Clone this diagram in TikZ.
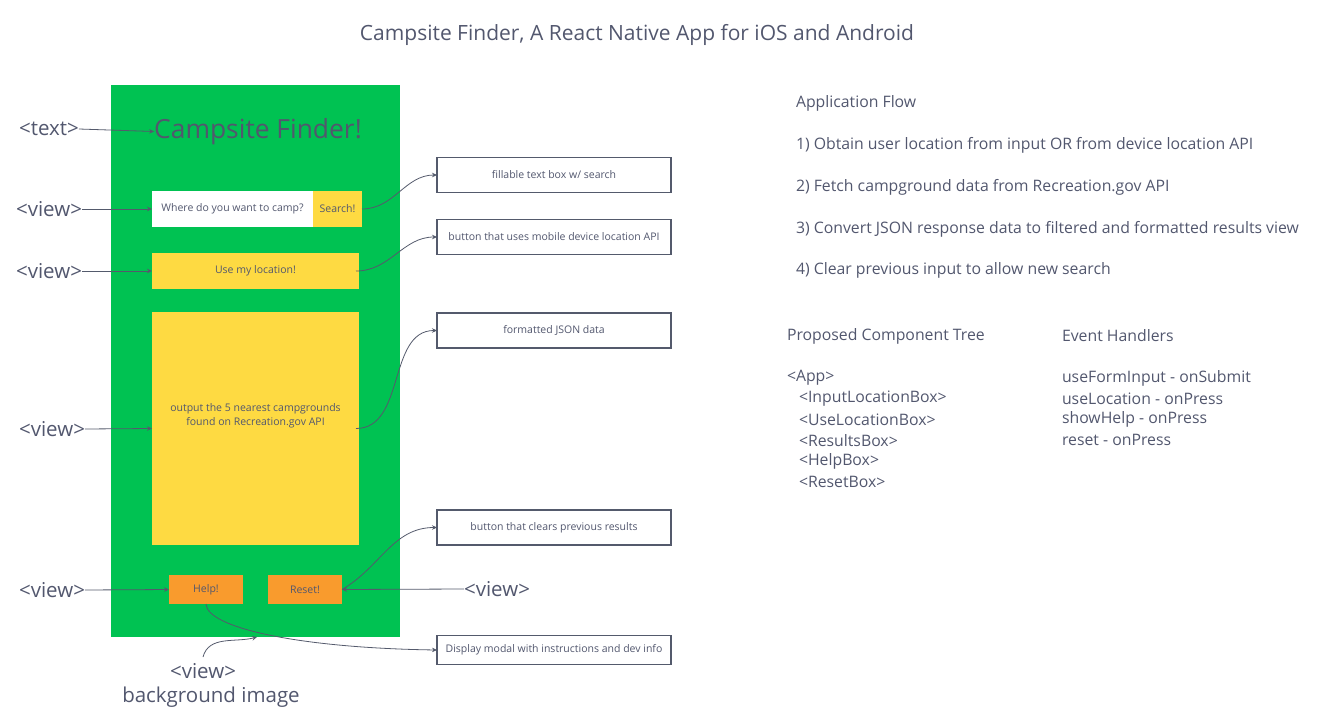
\documentclass[tikz,border=0pt]{standalone}
\usepackage{fontspec}
\setmainfont{Open Sans}
\usetikzlibrary{arrows.meta}
\definecolor{ink}{RGB}{82,87,110}
\definecolor{edge}{RGB}{84,90,108}
\definecolor{phonegreen}{RGB}{0,194,82}
\definecolor{btnyellow}{RGB}{254,218,66}
\definecolor{btnorange}{RGB}{249,155,45}
\newcommand{\fsz}[1]{\fontsize{#1bp}{#1bp}\selectfont}
\tikzset{
  every node/.style={text=ink, inner sep=0pt, outer sep=0pt},
  tag/.style={font=\fsz{20.5}},
  small/.style={font=\fsz{10.5}},
  body/.style={font=\fsz{15.8}, anchor=west, yshift=-2bp},
  yellowbox/.style={fill=btnyellow, draw=none, small},
  orangebox/.style={fill=btnorange, draw=none, small, minimum width=74bp, minimum height=29bp},
  notebox/.style={draw=edge, line width=1.1bp, fill=white, small, minimum width=234bp, minimum height=35bp},
  conn/.style={draw=edge, line width=0.8bp, -{Stealth[length=5bp,width=4.5bp]}},
}
\begin{document}
\begin{tikzpicture}[x=1bp, y=-1bp]
\useasboundingbox (0,0) rectangle (1338,723);

% heading
\node[font=\fsz{21}, yshift=-2.5bp] (title) at (637,32) {Campsite Finder, A React Native App for iOS and Android};

% phone screen
\node[fill=phonegreen, minimum width=289bp, minimum height=552bp] (phone) at (255.5,361) {};
\node[font=\fsz{26.4}, yshift=-1.5bp] (apptitle) at (258,130) {Campsite Finder!};
\node[fill=white, small, minimum width=161bp, minimum height=36bp] (input) at (232.5,209) {Where do you want to camp?};
\node[yellowbox, minimum width=49bp, minimum height=36bp] (search) at (337.5,209) {Search!};
\node[yellowbox, minimum width=207bp, minimum height=36bp] (locate) at (255.5,271) {Use my location!};
\node[yellowbox, minimum width=207bp, minimum height=233bp] (results) at (255.5,428.5) {};
\node[align=center, font=\fontsize{10.5bp}{14bp}\selectfont] (resultstext) at (255.5,416) {output the 5 nearest campgrounds\\found on Recreation.gov API};
\node[orangebox] (help) at (206,589.5) {Help!};
\node[orangebox] (reset) at (305,589.5) {Reset!};

% component tags
\node[tag] (ttext) at (49,129) {<text>};
\node[tag] (tinput) at (49,209) {<view>};
\node[tag] (tlocate) at (49,271) {<view>};
\node[tag] (tresults) at (52,429) {<view>};
\node[tag] (thelp) at (52,590) {<view>};
\node[tag] (treset) at (497,589) {<view>};
\node[tag] (tbg) at (203,671) {<view>};
\node[tag] (tbgsub) at (211,697) {background image};
\coordinate (bgstart) at (203,657);
\coordinate (bgend) at ([xshift=1.5bp]phone.south);

\draw[conn] (ttext.east) -- (apptitle.west);
\draw[conn] (tinput.east) -- (input.west);
\draw[conn] (tlocate.east) -- (locate.west);
\draw[conn] (tresults.east) -- (results.west);
\draw[conn] (thelp.east) -- (help.west);
\draw[conn] (treset.west) -- (reset.east);
\draw[conn] (bgstart) to[out=75,in=195] (bgend);

% notes
\node[notebox] (nsearch) at (554,175) {fillable text box w/ search};
\node[notebox] (nlocate) at (554,237) {button that uses mobile device location API};
\node[notebox] (njson) at (554,330.5) {formatted JSON data};
\node[notebox] (nclear) at (554,527.5) {button that clears previous results};
\node[notebox, minimum height=29bp] (nhelp) at (554,650) {Display modal with instructions and dev info};

\draw[conn] (search.east) to[out=0,in=180] (nsearch.west);
\draw[conn] ([xshift=-3bp]locate.east) to[out=0,in=180] (nlocate.west);
\draw[conn] ([xshift=-3bp]results.east) to[out=0,in=180] (njson.west);
\draw[conn] (reset.east) to[out=30,in=180] (nclear.west);
\draw[conn] (help.south) .. controls (207,628) and (300,648) .. (nhelp.west);

% application flow
\node[body] (flowhead) at (796,101) {Application Flow};
\node[body] (flow1) at (796,143) {1) Obtain user location from input OR from device location API};
\node[body] (flow2) at (796,185) {2) Fetch campground data from Recreation.gov API};
\node[body] (flow3) at (796,227) {3) Convert JSON response data to filtered and formatted results view};
\node[body] (flow4) at (796,268) {4) Clear previous input to allow new search};

% component tree
\node[body] (treehead) at (787,334) {Proposed Component Tree};
\node[body] (tapp) at (787,376) {<App>};
\node[body] (tin) at (799,397) {<InputLocationBox>};
\node[body] (tuse) at (799,418) {<UseLocationBox>};
\node[body] (tres) at (799,439) {<ResultsBox>};
\node[body] (thb) at (799,459) {<HelpBox>};
\node[body] (trb) at (799,480) {<ResetBox>};

% event handlers
\node[body] (evhead) at (1062,334) {Event Handlers};
\node[body] (ev1) at (1062,376) {useFormInput - onSubmit};
\node[body] (ev2) at (1062,397) {useLocation - onPress};
\node[body] (ev3) at (1062,417) {showHelp - onPress};
\node[body] (ev4) at (1062,438) {reset - onPress};
\end{tikzpicture}
\end{document}
